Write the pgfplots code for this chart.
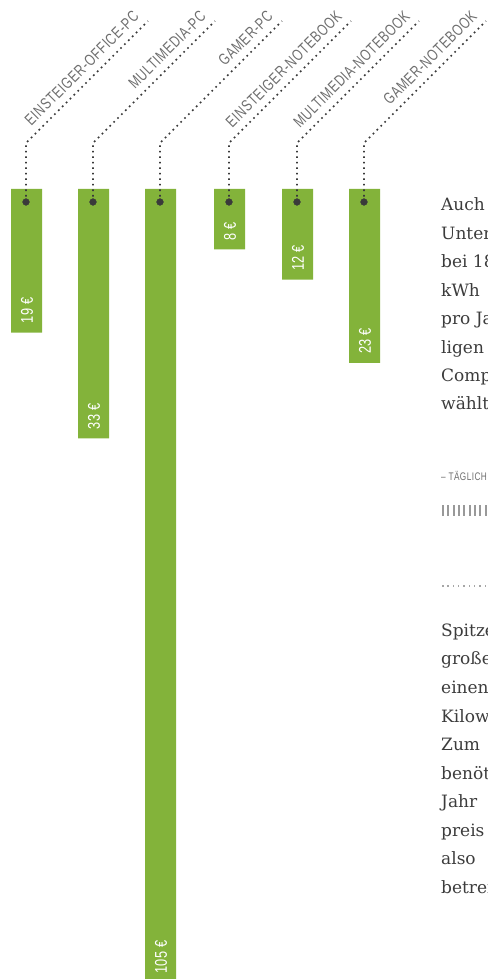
\documentclass[border=0pt]{standalone}
\usepackage{pgfplots}
\pgfplotsset{compat=1.18}
\usepackage{fontspec}
\setmainfont{Liberation Sans}
\newfontfamily\condfont[FakeStretch=0.75,LetterSpace=4]{Liberation Sans}
\newfontfamily\valfont[FakeStretch=0.75,LetterSpace=2]{Liberation Sans}
\newfontfamily\bodyfont{DejaVu Serif}
\definecolor{bargreen}{HTML}{83B33A}
\definecolor{dotgray}{HTML}{3A3A3A}
\definecolor{labgray}{HTML}{6E6E6E}
\definecolor{bodygray}{HTML}{3C3C3C}
\begin{document}
\begin{tikzpicture}[x=1pt,y=1pt]
\path[use as bounding box] (0,0) rectangle (487,979);
\clip (0,0) rectangle (487,979);
\begin{axis}[at={(0pt,0pt)}, anchor=south west, scale only axis,
  width=487pt, height=979pt, xmin=0, xmax=487, ymin=-25.0, ymax=104.5,
  y dir=reverse, hide axis, clip=false]
% bars (values in EUR)
\addplot[ybar, bar width=31, fill=bargreen, draw=none] coordinates
  {(26.5,19) (93.5,33) (160.5,105) (229.5,8) (297.5,12) (364.5,23)};
% leader lines
\foreach \xx in {26,93,160,229,297,364}{
  \edef\tmp{\noexpand\addplot[dotgray, line width=1.7pt, dash pattern=on 1.7pt off 3.8pt, line cap=butt] coordinates {(\xx,1.72) (\xx,-6.08) (\xx+122,-22.22)};}
  \tmp
}
\addplot[only marks, mark=*, mark size=3.4pt, dotgray] coordinates
  {(26,1.72) (93,1.72) (160,1.72) (229,1.72) (297,1.72) (364,1.72)};
% category labels
\foreach \xx/\lab in {26/EINSTEIGER-OFFICE-PC, 93/MULTIMEDIA-PC, 160/GAMER-PC, 229/EINSTEIGER-NOTEBOOK, 297/MULTIMEDIA-NOTEBOOK, 364/GAMER-NOTEBOOK}{
  \edef\tmp{\noexpand\node[rotate=45, anchor=base east, inner sep=0pt, text=labgray, font=\noexpand\condfont\noexpand\fontsize{16}{16}\noexpand\selectfont] at (axis cs:\xx+114,-22.66) {\lab};}
  \tmp
}
% value labels
\foreach \xx/\v in {26.5/19, 93.5/33, 160.5/105, 229.5/8, 297.5/12, 364.5/23}{
  \edef\tmp{\noexpand\node[rotate=90, anchor=west, inner sep=0pt, text=white, font=\noexpand\valfont\noexpand\fontsize{17}{17}\noexpand\selectfont] at (axis cs:\xx+0.5,\v-1.2) {\v~€};}
  \tmp
}
\end{axis}
% side text
\begin{scope}[every node/.style={anchor=base west, inner sep=0pt, text=bodygray, font=\bodyfont\fontsize{17}{17}\selectfont}]
\node at (441,979-211) {Auch im Standby};
\node at (441,979-240) {Unterhaltung};
\node at (441,979-268) {bei 18 Cent pro};
\node at (441,979-297) {kWh};
\node at (441,979-325) {pro Jahr};
\node at (441,979-354) {ligen};
\node at (441,979-382) {Computer};
\node at (441,979-410) {wählt};
\node at (441,979-637) {Spitzenreiter};
\node at (441,979-665) {große};
\node at (441,979-694) {einen};
\node at (441,979-723) {Kilowatt};
\node at (441,979-751) {Zum};
\node at (441,979-780) {benötigt};
\node at (441,979-808) {Jahr};
\node at (441,979-837) {preis};
\node at (441,979-865) {also};
\node at (441,979-894) {betreibt};
\end{scope}
\node[anchor=base west, inner sep=0pt, text=labgray, font=\condfont\fontsize{11}{11}\selectfont] at (441,979-481) {– TÄGLICH VIER STUNDEN};
\foreach \i in {0,...,9}{\fill[black!40] (442+\i*5.33,979-516) rectangle ++(2,11);}
\foreach \i in {0,...,9}{\fill[black!35] (442+\i*5.33,979-587) rectangle ++(1.5,1.5);}
\end{tikzpicture}
\end{document}
